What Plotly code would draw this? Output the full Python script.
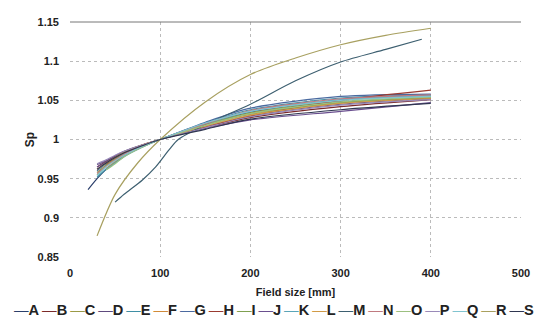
import plotly.graph_objects as go

field_size = [20, 30, 40, 50, 60, 80, 100, 150, 200, 300, 400]
names = list("ABCDEFGHIJKLMNOPQRS")
colors = ["#2b3f6b", "#7a2a2a", "#9a9a48", "#5e4a7e", "#3f8fa5", "#d08a3a",
          "#4a6aa0", "#9a3a30", "#7fa050", "#6a4f8f", "#5aa5b8", "#d09a48",
          "#3d5f70", "#c07a80", "#9cc080", "#9a8ab8", "#80c4d0", "#a8a060",
          "#2f3650"]

sp = {
    "A": [0.936, 0.950, 0.962, 0.971, 0.979, 0.991, 1.000, 1.020, 1.035, 1.048, 1.053],
    "B": [None, 0.965, 0.972, 0.978, 0.984, 0.993, 1.000, 1.015, 1.028, 1.042, 1.051],
    "C": [None, 0.955, 0.966, 0.974, 0.981, 0.992, 1.000, 1.019, 1.034, 1.050, 1.056],
    "D": [None, 0.968, 0.973, 0.979, 0.985, 0.993, 1.000, 1.016, 1.030, 1.045, 1.052],
    "E": [None, 0.952, 0.962, 0.971, 0.979, 0.991, 1.000, 1.021, 1.038, 1.053, 1.057],
    "F": [None, None, 0.963, 0.972, 0.980, 0.991, 1.000, 1.018, 1.032, 1.047, 1.053],
    "G": [None, 0.960, 0.969, 0.976, 0.983, 0.992, 1.000, 1.022, 1.040, 1.055, 1.058],
    "H": [None, None, 0.968, 0.976, 0.983, 0.992, 1.000, 1.016, 1.030, 1.050, 1.063],
    "I": [None, 0.958, 0.967, 0.975, 0.982, 0.992, 1.000, 1.019, 1.033, 1.047, 1.054],
    "J": [None, 0.965, 0.971, 0.977, 0.983, 0.992, 1.000, 1.014, 1.025, 1.036, 1.047],
    "K": [None, None, 0.962, 0.970, 0.978, 0.990, 1.000, 1.020, 1.036, 1.051, 1.056],
    "L": [None, 0.962, 0.970, 0.977, 0.984, 0.993, 1.000, 1.017, 1.031, 1.046, 1.052],
    "N": [None, 0.957, 0.966, 0.974, 0.981, 0.991, 1.000, 1.020, 1.037, 1.052, 1.057],
    "O": [None, None, 0.961, 0.969, 0.978, 0.990, 1.000, 1.018, 1.033, 1.048, 1.054],
    "P": [None, 0.969, 0.974, 0.980, 0.985, 0.993, 1.000, 1.015, 1.029, 1.044, 1.051],
    "Q": [None, 0.954, 0.965, 0.973, 0.980, 0.991, 1.000, 1.021, 1.036, 1.050, 1.055],
    "S": [None, 0.962, 0.970, 0.977, 0.983, 0.992, 1.000, 1.013, 1.026, 1.038, 1.046],
}

# Series with their own field sizes
m_field = [50, 60, 80, 95, 110, 120, 150, 200, 250, 300, 350, 390]
m_sp = [0.920, 0.930, 0.948, 0.965, 0.987, 1.000, 1.019, 1.045, 1.075, 1.099, 1.115, 1.128]
r_field = [30, 50, 75, 100, 150, 200, 250, 300, 350, 400]
r_sp = [0.877, 0.930, 0.970, 1.000, 1.048, 1.083, 1.104, 1.121, 1.133, 1.142]

x_ticks = [0, 100, 200, 300, 400, 500]
y_ticks = [0.85, 0.9, 0.95, 1.0, 1.05, 1.1, 1.15]
y_tick_text = ["0.85", "0.9", "0.95", "1", "1.05", "1.1", "1.15"]

fig = go.Figure()
for name, col in zip(names, colors):
    if name == "M":
        xs, ys = m_field, m_sp
    elif name == "R":
        xs, ys = r_field, r_sp
    else:
        xs, ys = field_size, sp[name]
    fig.add_trace(go.Scatter(x=xs, y=ys, name=name, mode="lines",
                             line=dict(color=col, width=1.2, shape="spline", smoothing=0.8),
                             connectgaps=False, showlegend=False))

legend_html = "\u2009".join(
    f"<span style='color:{c}'>\u2014</span><b>{n}</b>" for n, c in zip(names, colors)
)
fig.add_annotation(text=legend_html, xref="paper", yref="paper",
                   x=0.452, y=-0.225, xanchor="center", yanchor="middle",
                   showarrow=False,
                   font=dict(family="Arial", size=14.6, color="#222"))

fig.add_shape(type="line", xref="paper", yref="paper", x0=0, x1=1, y0=1, y1=1,
              line=dict(color="#777", width=1))

fig.update_layout(
    width=536, height=312,
    margin=dict(l=62, r=23, t=14, b=63),
    paper_bgcolor="white", plot_bgcolor="white",
    xaxis=dict(range=[0, 500], tickvals=x_ticks, showgrid=True, automargin=False,
               gridcolor="#bbb", griddash="dot", gridwidth=1,
               zeroline=False, showline=False, ticks="", ticklabelstandoff=8,
               tickfont=dict(family="Arial", size=11, color="#222", weight="bold"),
               title=dict(text="<b>Field size [mm]</b>", standoff=10,
                          font=dict(family="Arial", size=11, color="#222"))),
    yaxis=dict(range=[0.85, 1.15], tickvals=y_ticks, ticktext=y_tick_text,
               showgrid=True, gridcolor="#bbb", griddash="dot", gridwidth=1,
               zeroline=False, showline=False, ticks="", ticklabelstandoff=10,
               automargin=False,
               tickfont=dict(family="Arial", size=11, color="#222", weight="bold"),
               title=dict(text="<b>Sp</b>", standoff=0,
                          font=dict(family="Arial", size=12, color="#222"))),
)

fig.write_html("out.html")
